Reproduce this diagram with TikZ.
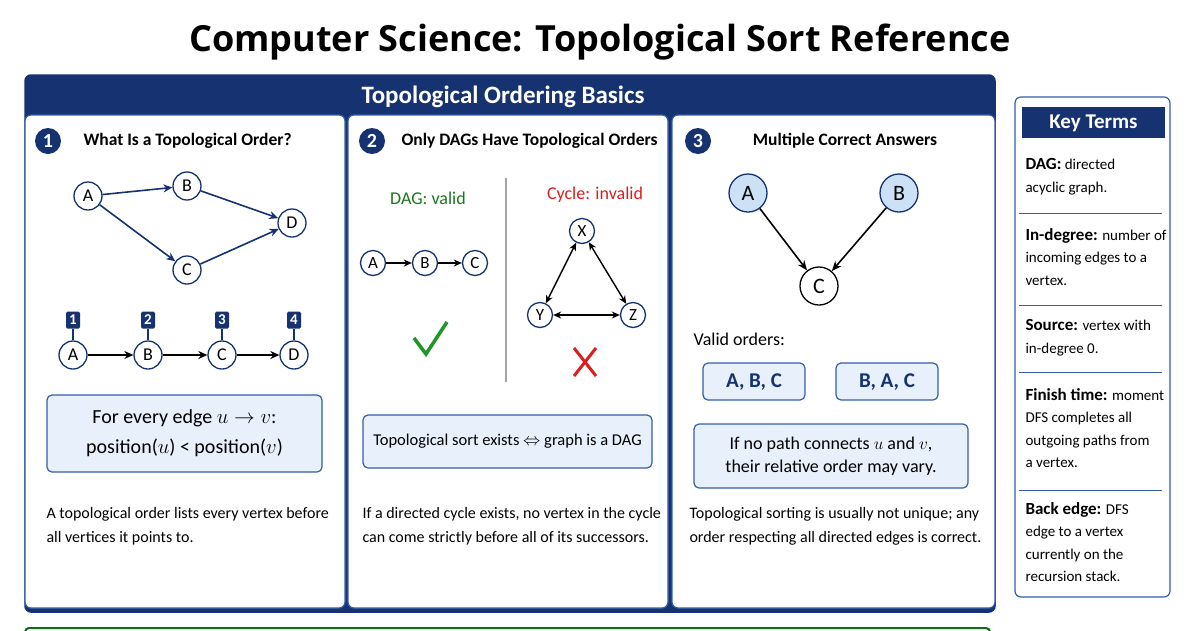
\documentclass[tikz,border=0pt]{standalone}
\usepackage{fontspec}
\setmainfont{Carlito}
\newfontfamily\titlefont{Open Sans}
\usepackage{amsmath}
\usepackage{tikz}
\usetikzlibrary{arrows.meta}
\definecolor{navy}{RGB}{22,50,112}
\definecolor{frameblue}{RGB}{52,94,170}
\definecolor{paleblue}{RGB}{232,240,251}
\definecolor{nodeblue}{RGB}{205,225,246}
\definecolor{okgreen}{RGB}{30,150,40}
\definecolor{badred}{RGB}{220,30,30}
\tikzset{
  panel/.style={draw=frameblue,line width=1.2pt,rounded corners=6pt,fill=white},
  note/.style={draw=frameblue,line width=1.2pt,rounded corners=5pt,fill=paleblue},
  badge/.style={circle,fill=navy,text=white,font=\bfseries\fontsize{20}{20}\selectfont,minimum size=26pt,inner sep=0pt},
  heading/.style={font=\bfseries\fontsize{17.5}{20}\selectfont,anchor=west},
  vert/.style={circle,draw=navy,line width=1.3pt,fill=white,minimum size=#1,inner sep=0pt,font=\fontsize{18}{18}\selectfont},
  vert/.default=28pt,
  body/.style={font=\fontsize{16}{24}\selectfont,align=left,anchor=north west},
  term/.style={font=\fontsize{15}{22.5}\selectfont,align=left,anchor=north west},
}
\begin{document}
\begin{tikzpicture}[x=1pt,y=-1pt]
\useasboundingbox (0,0) rectangle (1200,630);
\fill[white] (0,0) rectangle (1200,630);
% title
\node (Title) at (600,42) {\titlefont\bfseries\fontsize{36}{38}\selectfont Computer Science: Topological Sort Reference};
% frame and header
\draw[draw=navy,line width=1.5pt,rounded corners=6pt,fill=navy] (25,75) rectangle (995,612);
\node[text=white,font=\bfseries\fontsize{25}{26}\selectfont] (Basics) at (503,97) {Topological Ordering Basics};
\draw[panel] (25,115) rectangle (345,608);
\draw[panel] (348,115) rectangle (668,608);
\draw[panel] (672,115) rectangle (995,608);
\draw[draw=okgreen!70!black,line width=2pt,rounded corners=4pt] (25,640) -- (25,628) -- (990,628) -- (990,640);

% panel 1
\node[badge] (OneBadge) at (48,141) {1};
\node[heading] (OneHead) at (80,141) {What Is a Topological Order?};
\begin{scope}[every node/.style={vert}]
    \node (gA) at (88,196) {A};
    \node (gB) at (187,186) {B};
    \node (gC) at (187,270) {C};
    \node (gD) at (292,223) {D};
    \node (oA) at (73,355) {A};
    \node (oB) at (148,355) {B};
    \node (oC) at (222,355) {C};
    \node (oD) at (294,355) {D};
\end{scope}
\begin{scope}[>={Stealth[length=9pt,width=8pt]},every edge/.style={draw=navy,line width=1.6pt}]
    \path [->] (gA) edge (gB);
    \path [->] (gA) edge (gC);
    \path [->] (gB) edge (gD);
    \path [->] (gC) edge (gD);
\end{scope}
\begin{scope}[>={Stealth[length=9pt,width=8pt]},every edge/.style={draw=black,line width=1.6pt}]
    \path [->] (oA) edge (oB);
    \path [->] (oB) edge (oC);
    \path [->] (oC) edge (oD);
\end{scope}
\foreach \v/\n in {oA/1,oB/2,oC/3,oD/4}{
    \node[fill=navy,text=white,rounded corners=1.5pt,inner sep=1.5pt,minimum width=14pt,minimum height=17pt,font=\bfseries\fontsize{15}{15}\selectfont] (\v n) at ([yshift=35pt]\v.center) {\n};
    \draw[navy,line width=1.2pt] (\v n) -- (\v);
}
\draw[note] (47,395) rectangle (322,472);
\node[font=\fontsize{20}{30}\selectfont,align=center] (OneRule) at (184.5,433) {For every edge $u\rightarrow v$:\\position($u$) < position($v$)};
\node[body] (OneText) at (43,504) {A topological order lists every vertex before\\all vertices it points to.};

% panel 2
\node[badge] (TwoBadge) at (372,141) {2};
\node[heading] (TwoHead) at (398,141) {Only DAGs Have Topological Orders};
\node[text=okgreen!80!black,font=\fontsize{18}{18}\selectfont] (DagLbl) at (428,198) {DAG: valid};
\node[text=badred,font=\fontsize{18}{18}\selectfont] (CycLbl) at (595,195) {Cycle: invalid};
\draw[gray!70,line width=1.2pt] (506,178) -- (506,382);
\begin{scope}[every node/.style={vert=25pt,font=\fontsize{17}{17}\selectfont}]
    \node (dA) at (373,263) {A};
    \node (dB) at (425,263) {B};
    \node (dC) at (475,263) {C};
    \node (cX) at (582,231) {X};
    \node (cY) at (540,315) {Y};
    \node (cZ) at (633,315) {Z};
\end{scope}
\begin{scope}[>={Stealth[length=8pt,width=7pt]},every edge/.style={draw=black,line width=1.4pt}]
    \path [->] (dA) edge (dB);
    \path [->] (dB) edge (dC);
    \path [<->] (cX) edge (cY);
    \path [<->] (cX) edge (cZ);
    \path [<->] (cY) edge (cZ);
\end{scope}
\draw[okgreen,line width=3.5pt] (414,338) -- (426,354) -- (447,322);
\draw[badred,line width=3pt] (574,348) -- (596,376) (596,348) -- (574,376);
\draw[note] (363,415) rectangle (652,468);
\node[font=\fontsize{16.5}{18}\selectfont] (TwoRule) at (507.5,441.5) {Topological sort exists $\Leftrightarrow$ graph is a DAG};
\node[body] (TwoText) at (359,504) {If a directed cycle exists, no vertex in the cycle\\can come strictly before all of its successors.};

% panel 3
\node[badge] (ThreeBadge) at (698,141) {3};
\node[heading,anchor=center] (ThreeHead) at (845,141) {Multiple Correct Answers};
\begin{scope}[every node/.style={vert=38pt,font=\fontsize{22}{22}\selectfont}]
    \node[fill=nodeblue] (mA) at (748,193) {A};
    \node[fill=nodeblue] (mB) at (899,193) {B};
    \node[draw=black] (mC) at (819,286) {C};
\end{scope}
\begin{scope}[>={Stealth[length=10pt,width=8pt]},every edge/.style={draw=black,line width=1.6pt}]
    \path [->] (mA) edge (mC);
    \path [->] (mB) edge (mC);
\end{scope}
\node[anchor=west,font=\fontsize{18}{18}\selectfont] (ValidLbl) at (690,339) {Valid orders:};
\draw[note] (703,363) rectangle (805,400);
\draw[note] (836,363) rectangle (938,400);
\node[text=navy,font=\bfseries\fontsize{21}{21}\selectfont] (OrdOne) at (754,382) {A, B, C};
\node[text=navy,font=\bfseries\fontsize{21}{21}\selectfont] (OrdTwo) at (887,382) {B, A, C};
\draw[note] (694,424) rectangle (968,488);
\node[font=\fontsize{18}{23}\selectfont,align=center] (ThreeRule) at (831,456) {If no path connects $u$ and $v$,\\their relative order may vary.};
\node[body] (ThreeText) at (686,504) {Topological sorting is usually not unique; any\\order respecting all directed edges is correct.};

% key terms
\draw[panel] (1015,97) rectangle (1170,597);
\fill[navy] (1022,107) rectangle (1165,138);
\node[text=white,font=\bfseries\fontsize{21}{21}\selectfont] (KeyHead) at (1093.5,123) {Key Terms};
\foreach \y in {213,305,372,490}
    \draw[frameblue,line width=1pt] (1019,\y) -- (1162,\y);
\node[term] (TDag) at (1022,155) {\textbf{\fontsize{17}{22.5}\selectfont DAG:} directed\\acyclic graph.};
\node[term] (TDeg) at (1022,225) {\textbf{\fontsize{17}{22.5}\selectfont In-degree:} number of\\incoming edges to a\\vertex.};
\node[term] (TSrc) at (1022,316) {\textbf{\fontsize{17}{22.5}\selectfont Source:} vertex with\\in-degree 0.};
\node[term] (TFin) at (1022,385) {\textbf{\fontsize{17}{22.5}\selectfont Finish time:} moment\\DFS completes all\\outgoing paths from\\a vertex.};
\node[term] (TBack) at (1022,499) {\textbf{\fontsize{17}{22.5}\selectfont Back edge:} DFS\\edge to a vertex\\currently on the\\recursion stack.};
\end{tikzpicture}
\end{document}
